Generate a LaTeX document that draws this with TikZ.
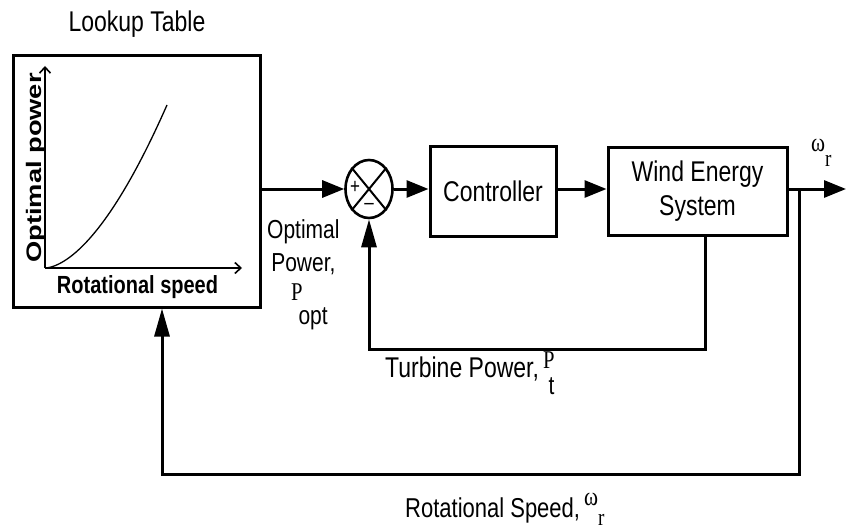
\documentclass[tikz,border=0pt]{standalone}
\usepackage{fontspec}
\usepackage{graphicx}
\setmainfont{Liberation Sans}
\newfontfamily\serifp{Liberation Serif}
\usetikzlibrary{arrows.meta,shapes.geometric}
\newcommand{\vs}[1]{\scalebox{1}[1.24]{#1}}
\newcommand{\sP}{\resizebox{!}{13.5pt}{\serifp P}}
\newcommand{\sw}{\resizebox{14pt}{!}{\serifp ω}}
\newcommand{\sr}{\resizebox{!}{9pt}{\serifp r}}
\begin{document}
\begin{tikzpicture}[x=1pt,y=-1pt,
  box/.style={draw, line width=3pt, inner sep=0pt},
  conn/.style={line width=3pt},
  harrow/.style={-{Triangle[length=22pt,width=17pt]}},
  varrow/.style={-{Triangle[length=28pt,width=15pt]}},
  axis/.style={line width=1.6pt,-{Straight Barb[length=6pt,width=11pt]}},
  txt/.style={font=\fontsize{23}{27.4}\selectfont, inner sep=0pt},
  sign/.style={font=\fontsize{17}{17}\selectfont, inner sep=0pt}]
\useasboundingbox (0,0) rectangle (846,532);

% blocks
\node[box, minimum width=247pt, minimum height=251pt] (lut) at (136.5,181.5) {};
\node[draw, ellipse, line width=2.6pt, minimum width=47pt, minimum height=58pt, inner sep=0pt] (sum) at (369,189) {};
\node[box, txt, minimum width=126pt, minimum height=89pt] (ctrl) at (493,191.5) {\vs{Controller}};
\node[box, txt, minimum width=179pt, minimum height=87pt] (wes) at (697.5,191.5)
  {\vs{\begin{tabular}{@{}c@{}}Wind Energy\\System\end{tabular}}};

% summing junction cross and signs
\draw[line width=2pt] (sum.north west) -- (sum.south east);
\draw[line width=2pt] (sum.north east) -- (sum.south west);
\node[sign] (plus) at (355,187) {\vs{+}};
\node[sign] (minus) at (369,206) {\vs{--}};

% lookup table graph
\coordinate (o) at (45,268);
\coordinate (ytop) at (45,66);
\coordinate (xend) at (242,268);
\draw[axis] (o) -- (ytop);
\draw[axis] (o) -- (xend);
\draw[line width=1.3pt] (o) -- plot[domain=0.5:122, samples=40] ({45+\x},{268-0.0463*(\x)^1.7});

% labels
\node[txt, anchor=base] (lt) at (137,32) {\vs{Lookup Table}};
\node[anchor=base, rotate=90, inner sep=0pt] (yl) at (41,168)
  {\scalebox{1.3}[1]{\bfseries\fontsize{21}{26}\selectfont Optimal power}};
\node[anchor=base, inner sep=0pt] (xl) at (137.5,293)
  {\vs{\bfseries\fontsize{20}{24}\selectfont Rotational speed}};

\node[anchor=base west, inner sep=0pt, font=\fontsize{21}{27.4}\selectfont] (popt) at (267,238)
  {\vs{\begin{tabular}[t]{@{}c@{}}Optimal\\Power,\\[-4.8pt]\hspace*{12pt}\sP\hspace{-4pt}\raisebox{-20pt}{opt}\end{tabular}}};

\node[txt, anchor=base west] (tp) at (385,377)
  {\vs{Turbine Power,\hspace{4pt}\raisebox{7pt}{\sP}\hspace{-6pt}\raisebox{-14.5pt}{\fontsize{21}{22}\selectfont t}}};

\node[anchor=base west, inner sep=0pt, font=\fontsize{22}{27}\selectfont] (rs) at (405,517)
  {\vs{Rotational Speed,\hspace{4pt}\raisebox{9pt}{\sw}\raisebox{-7pt}{\sr}}};

\node[anchor=base west, inner sep=0pt] (wr) at (811,152)
  {\vs{\sw\raisebox{-12pt}{\sr}}};

% connectors
\coordinate (out) at (846,189);
\coordinate (br) at (799,189);
\coordinate (bl) at (162,474);
\coordinate (fb) at (705,349);
\draw[conn, harrow] (sum.west -| lut.east) -- (sum.west);
\draw[conn, harrow] (sum.east) -- (sum.east -| ctrl.west);
\draw[conn, harrow] (sum.east -| ctrl.east) -- (sum.east -| wes.west);
\draw[conn, harrow] (out -| wes.east) -- (out);
\draw[conn, varrow] (br) -- (br |- bl) -- (bl) -- (bl |- lut.south);
\draw[conn, varrow] (fb |- wes.south) -- (fb) -- (fb -| sum.south) -- (sum.south);
\end{tikzpicture}
\end{document}
